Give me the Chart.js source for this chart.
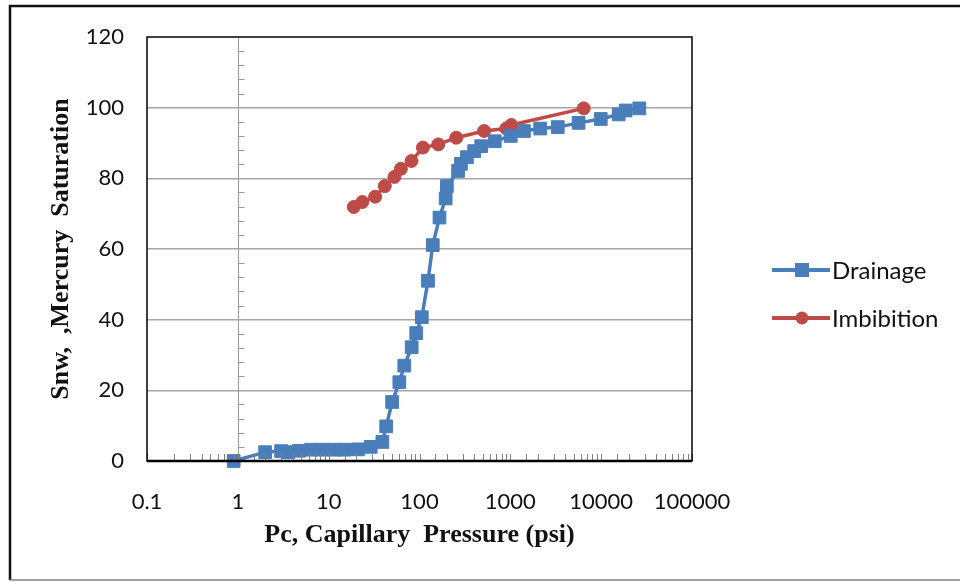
<!DOCTYPE html>
<html>
<head>
<meta charset="utf-8">
<title>Capillary Pressure</title>
<script src="https://cdn.jsdelivr.net/npm/chart.js@4.4.1/dist/chart.umd.min.js"></script>
<style>
  html, body { margin: 0; padding: 0; background: #fff; }
  canvas { display: block; }
</style>
</head>
<body>
<canvas id="pcChart" width="960" height="582"></canvas>
<script>
// ============================================
// CAPILLARY PRESSURE CURVES
// Drainage / imbibition, log Pc vs saturation
// ============================================

// --- data ---
const drainagePc = [0.9, 2, 3, 3.6, 4.7, 6.4, 8.5, 11.5, 15, 21, 29, 39, 43, 50, 60, 68, 82, 92, 106,
    124, 140, 166, 194, 200, 266, 286, 333, 400, 478, 674, 1010, 1410, 2130, 3330, 5640, 9900,
    15600, 18600, 26300];
const drainageSnw = [0, 2.5, 2.8, 2.5, 2.9, 3.2, 3.2, 3.2, 3.2, 3.3, 4.0, 5.4, 9.8, 16.7, 22.3, 27,
    32.2, 36.2, 40.7, 51, 61.1, 68.9, 74.3, 77.8, 82.1, 84.1, 86, 87.7, 89.1, 90.5, 92, 93.4, 94.1,
    94.5, 95.7, 96.8, 98.1, 99.2, 99.8];

const imbibitionPc = [18.9, 23.5, 32.5, 41.5, 53, 62.4, 81.6, 109, 161, 254, 514, 902, 1025, 6430];
const imbibitionSnw = [71.9, 73.3, 74.8, 77.8, 80.4, 82.7, 84.9, 88.7, 89.6, 91.5, 93.4, 94.1, 95.1, 99.8];

const xTickLabels = ['0.1', '1', '10', '100', '1000', '10000', '100000'];
const yTicks = [0, 20, 40, 60, 80, 100, 120];

const seriesNames = ['Drainage', 'Imbibition'];
const seriesColors = ['#4A7EBB', '#BE4B48'];
const seriesMarkers = ['rect', 'circle'];

const tickFont = { family: 'Lato, "Open Sans", sans-serif', size: 22 };
const legendFont = { family: 'Lato, "Open Sans", sans-serif', size: 24 };
const titleFont = { family: '"Liberation Serif", "Times New Roman", serif', size: 26, weight: 'bold' };

function toPoints(xs, ys) {
    return xs.map((x, i) => ({ x: x, y: ys[i] }));
}

function isDecade(v) {
    const l = Math.log10(v);
    return Math.abs(l - Math.round(l)) < 1e-9;
}

// Excel-like decorations: frame, y axis crossing at x=1, minor ticks, legend, outer border
const excelDecor = {
    id: 'excelDecor',
    afterDraw(chart) {
        const { ctx, chartArea: a, scales: { x, y } } = chart;
        ctx.save();

        // y axis crossing at Pc = 1
        const x1 = Math.round(x.getPixelForValue(1)) + 0.5;
        ctx.strokeStyle = '#9a9a9a';
        ctx.lineWidth = 1;
        ctx.beginPath();
        ctx.moveTo(x1, a.top);
        ctx.lineTo(x1, a.bottom);
        for (let v = 4; v < 120; v += 4) {
            if (v % 20 === 0) continue;
            const py = Math.round(y.getPixelForValue(v)) + 0.5;
            ctx.moveTo(x1, py);
            ctx.lineTo(x1 + 6, py);
        }
        ctx.stroke();

        // minor ticks on the x axis, pointing up
        ctx.strokeStyle = '#7f7f7f';
        ctx.beginPath();
        x.ticks.forEach(t => {
            const px = Math.round(x.getPixelForValue(t.value)) + 0.5;
            ctx.moveTo(px, a.bottom);
            ctx.lineTo(px, a.bottom - 7);
        });
        ctx.stroke();

        // plot frame and the heavy zero line
        ctx.strokeStyle = '#000';
        ctx.lineWidth = 1.5;
        ctx.strokeRect(a.left, a.top, a.right - a.left, a.bottom - a.top);
        ctx.lineWidth = 2.5;
        ctx.beginPath();
        ctx.moveTo(a.left, a.bottom);
        ctx.lineTo(a.right, a.bottom);
        ctx.stroke();

        // legend
        chart.data.datasets.forEach((ds, i) => {
            const ly = 270 + i * 48;
            ctx.strokeStyle = ds.borderColor;
            ctx.lineWidth = 4;
            ctx.beginPath();
            ctx.moveTo(772, ly);
            ctx.lineTo(830, ly);
            ctx.stroke();
            ctx.fillStyle = ds.backgroundColor;
            if (ds.pointStyle === 'rect') {
                ctx.fillRect(795, ly - 7, 14, 14);
            } else {
                ctx.beginPath();
                ctx.arc(802, ly, 6.5, 0, Math.PI * 2);
                ctx.fill();
            }
            ctx.fillStyle = '#111';
            ctx.font = `${legendFont.size}px ${legendFont.family}`;
            ctx.textAlign = 'left';
            ctx.textBaseline = 'middle';
            ctx.fillText(ds.label, 832, ly + 1);
        });

        // outer chart border
        ctx.strokeStyle = '#111';
        ctx.lineWidth = 2.5;
        ctx.beginPath();
        ctx.moveTo(10, 580);
        ctx.lineTo(10, 6);
        ctx.lineTo(960, 6);
        ctx.stroke();
        ctx.strokeStyle = '#808080';
        ctx.lineWidth = 1.5;
        ctx.beginPath();
        ctx.moveTo(10, 580);
        ctx.lineTo(960, 580);
        ctx.stroke();

        ctx.restore();
    }
};

const datasets = [
    toPoints(drainagePc, drainageSnw),
    toPoints(imbibitionPc, imbibitionSnw)
].map((pts, i) => ({
    label: seriesNames[i],
    data: pts,
    showLine: true,
    borderColor: seriesColors[i],
    backgroundColor: seriesColors[i],
    borderWidth: 3.5,
    pointStyle: seriesMarkers[i],
    pointRadius: seriesMarkers[i] === 'rect' ? 9 : 6.5,
    pointBorderWidth: 1,
    pointBorderColor: seriesColors[i],
    clip: false
}));

new Chart(document.getElementById('pcChart').getContext('2d'), {
    type: 'scatter',
    data: { datasets: datasets },
    options: {
        responsive: false,
        animation: false,
        devicePixelRatio: 1,
        layout: { padding: { left: 0, top: 37, right: 268, bottom: 0 } },
        plugins: {
            legend: { display: false },
            tooltip: { enabled: false }
        },
        scales: {
            x: {
                type: 'logarithmic',
                min: 0.1,
                max: 100000,
                grid: { display: false },
                border: { display: false },
                afterFit: s => { s.height = 121; },
                ticks: {
                    autoSkip: false,
                    maxRotation: 0,
                    padding: 20,
                    color: '#111',
                    font: tickFont,
                    callback: v => isDecade(v) ? xTickLabels[Math.round(Math.log10(v)) + 1] : ''
                },
                title: {
                    display: true,
                    text: 'Pc, Capillary  Pressure (psi)',
                    color: '#111',
                    font: titleFont,
                    padding: { bottom: 31 }
                }
            },
            y: {
                min: yTicks[0],
                max: yTicks[yTicks.length - 1],
                afterFit: s => { s.width = 147; },
                afterBuildTicks: s => { s.ticks = yTicks.map(v => ({ value: v })); },
                grid: {
                    drawTicks: false,
                    color: c => (c.tick.value === 0 || c.tick.value === 120) ? 'rgba(0,0,0,0)' : '#a6a6a6',
                    lineWidth: 1.5
                },
                border: { display: false },
                ticks: {
                    padding: 23,
                    color: '#111',
                    font: tickFont
                },
                title: {
                    display: true,
                    text: 'Snw,  ,Mercury  Saturation',
                    color: '#111',
                    font: titleFont,
                    padding: { top: 46 }
                }
            }
        }
    },
    plugins: [excelDecor]
});
</script>
</body>
</html>
